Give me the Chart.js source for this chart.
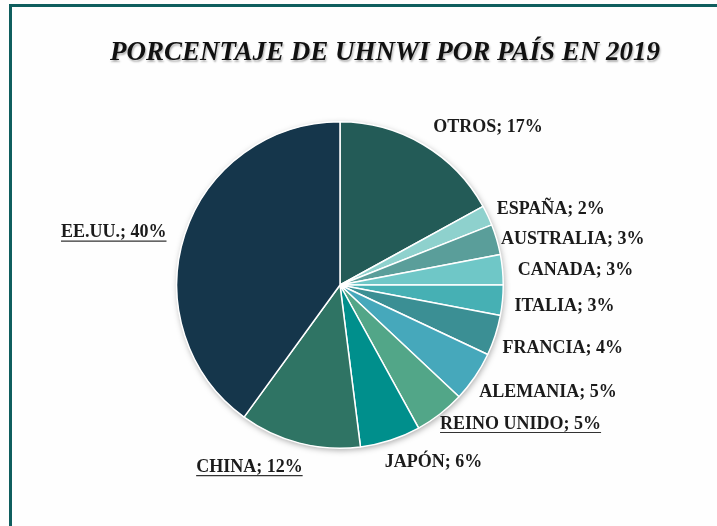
<!DOCTYPE html>
<html>
<head>
<meta charset="utf-8">
<script src="https://cdn.jsdelivr.net/npm/chart.js@4/dist/chart.umd.min.js"></script>
<style>
  html, body { margin: 0; padding: 0; background: #ffffff; }
  #wrap { position: relative; width: 717px; height: 526px; overflow: hidden; background: #fefefe; }
  #frame { position: absolute; left: 9px; top: 4px; width: 720px; height: 530px;
           border-left: 3px solid #0f5e5e; border-top: 3px solid #0f5e5e; box-sizing: border-box; }
  canvas { position: absolute; left: 0; top: 0; }
</style>
</head>
<body>
<div id="wrap">
  <div id="frame"></div>
  <canvas id="c" width="717" height="526"></canvas>
</div>
<script>
// ---- data ----
const chartTitle = "PORCENTAJE DE UHNWI POR PAÍS EN 2019";
const countries = ["OTROS", "ESPAÑA", "AUSTRALIA", "CANADA", "ITALIA", "FRANCIA",
                   "ALEMANIA", "REINO UNIDO", "JAPÓN", "CHINA", "EE.UU."];
const shares = [17, 2, 3, 3, 3, 4, 5, 5, 6, 12, 40];

// ---- styles ----
const sliceColors = ["#235b57", "#8ed1cd", "#5a9e9a", "#6fc7c7", "#46b0b4", "#3b8f94",
                     "#46a8bb", "#52a688", "#008f8c", "#2f7464", "#15364b"];
const underlined = [false, false, false, false, false, false, false, true, false, true, true];
// label offsets (px) from the outer edge point at each slice's mid angle
const labelOffsets = [[65, -17], [63, -6], [76, 0], [73, 1], [62, 5.5], [67.5, 13],
                      [73, 16], [80.5, 10], [43, 22.5], [-50, 24], [-71, -2]];

const labelPlugin = {
  id: 'labelPlugin',
  beforeDatasetsDraw(chart) {
    const arc = chart.getDatasetMeta(0).data[0];
    if (!arc) return;
    const ctx = chart.ctx;
    ctx.save();
    ctx.shadowColor = 'rgba(0,0,0,0.35)';
    ctx.shadowBlur = 6;
    ctx.shadowOffsetX = 1;
    ctx.shadowOffsetY = 2;
    ctx.fillStyle = '#ffffff';
    ctx.beginPath();
    ctx.arc(arc.x, arc.y, arc.outerRadius, 0, Math.PI * 2);
    ctx.fill();
    ctx.restore();
  },
  afterDraw(chart) {
    const ctx = chart.ctx;
    // title
    ctx.save();
    ctx.font = 'italic bold 27px "Liberation Serif", "Times New Roman", serif';
    ctx.textAlign = 'center';
    ctx.textBaseline = 'alphabetic';
    ctx.fillStyle = '#111111';
    ctx.shadowColor = 'rgba(0,0,0,0.3)';
    ctx.shadowBlur = 2;
    ctx.shadowOffsetX = 1;
    ctx.shadowOffsetY = 1.5;
    ctx.fillText(chartTitle, 385, 60);
    ctx.restore();

    // data labels
    const meta = chart.getDatasetMeta(0);
    ctx.save();
    ctx.font = 'bold 18px "Liberation Serif", "Times New Roman", serif';
    ctx.textAlign = 'center';
    ctx.textBaseline = 'middle';
    ctx.fillStyle = '#1b1b1b';
    ctx.strokeStyle = '#333333';
    ctx.lineWidth = 1.2;
    meta.data.forEach((a, i) => {
      const mid = (a.startAngle + a.endAngle) / 2;
      const px = a.x + Math.cos(mid) * a.outerRadius;
      const py = a.y + Math.sin(mid) * a.outerRadius;
      const x = px + labelOffsets[i][0];
      const y = py + labelOffsets[i][1];
      const text = countries[i] + '; ' + shares[i] + '%';
      ctx.fillText(text, x, y);
      if (underlined[i]) {
        const w = ctx.measureText(text).width;
        ctx.beginPath();
        ctx.moveTo(x - w / 2, y + 8.5);
        ctx.lineTo(x + w / 2, y + 8.5);
        ctx.stroke();
      }
    });
    ctx.restore();
  }
};

new Chart(document.getElementById('c'), {
  type: 'pie',
  data: {
    labels: countries,
    datasets: [{
      data: shares,
      backgroundColor: sliceColors,
      borderColor: '#ffffff',
      borderWidth: 1.5
    }]
  },
  options: {
    responsive: false,
    animation: false,
    layout: { padding: { left: 176, right: 213, top: 121, bottom: 77 } },
    plugins: {
      legend: { display: false },
      tooltip: { enabled: false },
      title: { display: false }
    }
  },
  plugins: [labelPlugin]
});
</script>
</body>
</html>
